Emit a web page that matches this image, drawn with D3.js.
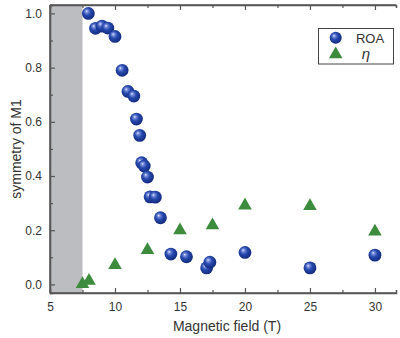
<!DOCTYPE html>
<html>
<head>
<meta charset="utf-8">
<script src="https://cdn.jsdelivr.net/npm/d3@7"></script>
<style>
  html, body { margin: 0; padding: 0; background: #fff; }
  svg { display: block; }
  text { font-family: "Liberation Sans", Arial, sans-serif; fill: #333; }
</style>
</head>
<body>
<svg id="chart" width="400" height="338"></svg>
<script>
// ROA symmetry of M1 versus magnetic field
const roaField = [7.95, 8.5, 9.0, 9.45, 10.0, 10.55, 11.0, 11.45, 11.65, 11.9, 12.05, 12.25, 12.5, 12.7, 13.1, 13.5, 14.3, 15.5, 17.05, 17.3, 20.0, 25.0, 30.0];
const roaValue = [1.0, 0.945, 0.953, 0.946, 0.915, 0.79, 0.712, 0.695, 0.61, 0.55, 0.449, 0.437, 0.396, 0.323, 0.322, 0.246, 0.112, 0.102, 0.061, 0.082, 0.118, 0.061, 0.108];

// eta values versus magnetic field
const etaField = [7.5, 8.0, 10.0, 12.5, 15.0, 17.5, 20.0, 25.0, 30.0];
const etaValue = [0.005, 0.017, 0.075, 0.13, 0.203, 0.222, 0.295, 0.293, 0.199];

const xMajorTicks = [5, 10, 15, 20, 25, 30];
const xMinorTicks = [7.5, 12.5, 17.5, 22.5, 27.5];
const yMajorTicks = [0.0, 0.2, 0.4, 0.6, 0.8, 1.0];
const yMinorTicks = [0.1, 0.3, 0.5, 0.7, 0.9];
const shadedRange = [5, 7.5];

const svg = d3.select("#chart");
const plotLeft = 50, plotRight = 396, plotTop = 5, plotBottom = 293;

const x = d3.scaleLinear().domain([5, 31.62]).range([plotLeft, plotRight]);
const y = d3.scaleLinear().domain([-0.0317, 1.031]).range([plotBottom, plotTop]);

const defs = svg.append("defs");
const grad = defs.append("radialGradient")
  .attr("id", "ball").attr("cx", "45%").attr("cy", "42%").attr("r", "58%")
  .attr("fx", "35%").attr("fy", "32%");
grad.append("stop").attr("offset", "0%").attr("stop-color", "#e8ecff");
grad.append("stop").attr("offset", "18%").attr("stop-color", "#7a8fdc");
grad.append("stop").attr("offset", "50%").attr("stop-color", "#2649ad");
grad.append("stop").attr("offset", "100%").attr("stop-color", "#12297e");

// shaded low-field region
svg.append("rect")
  .attr("x", x(shadedRange[0])).attr("y", plotTop)
  .attr("width", x(shadedRange[1]) - x(shadedRange[0]))
  .attr("height", plotBottom - plotTop)
  .attr("fill", "#bcbdc0");

const axisColor = "#555";

// bottom axis (ticks inward)
const gB = svg.append("g").attr("transform", `translate(0,${plotBottom})`);
gB.call(d3.axisBottom(x).tickValues(xMajorTicks).tickSize(-5).tickFormat(d3.format("d")).tickPadding(9));
gB.append("g").call(d3.axisBottom(x).tickValues(xMinorTicks).tickSize(-3).tickFormat(""));
// top axis
const gT = svg.append("g").attr("transform", `translate(0,${plotTop})`);
gT.call(d3.axisTop(x).tickValues(xMajorTicks).tickSize(-5).tickFormat(""));
gT.append("g").call(d3.axisTop(x).tickValues(xMinorTicks).tickSize(-3).tickFormat(""));
// left axis
const gL = svg.append("g").attr("transform", `translate(${plotLeft},0)`);
gL.call(d3.axisLeft(y).tickValues(yMajorTicks).tickSize(-5).tickFormat(d3.format(".1f")).tickPadding(8));
gL.append("g").call(d3.axisLeft(y).tickValues(yMinorTicks).tickSize(-3).tickFormat(""));

svg.selectAll(".domain").attr("stroke", axisColor).attr("stroke-width", 1.5);
svg.selectAll(".tick line").attr("stroke", axisColor).attr("stroke-width", 1.2);
svg.selectAll(".tick text").attr("font-size", 12).attr("fill", "#333")
  .attr("font-family", "Liberation Sans, Arial, sans-serif");
gB.select(".domain").attr("d", `M${plotLeft},0H${plotRight}`);
gT.select(".domain").attr("d", `M${plotLeft},0H${plotRight}`);
gL.select(".domain").attr("d", `M0,${plotBottom}V${plotTop}`);

// eta triangles
const tri = d3.symbol().type(d3.symbolTriangle).size(80);
svg.append("g").selectAll("path")
  .data(etaField.map((f, i) => [f, etaValue[i]]))
  .join("path")
  .attr("d", tri)
  .attr("transform", d => `translate(${x(d[0])},${y(d[1]) + 1})`)
  .attr("fill", "#3d8b3d");

// ROA spheres
svg.append("g").selectAll("circle")
  .data(roaField.map((f, i) => [f, roaValue[i]]))
  .join("circle")
  .attr("cx", d => x(d[0])).attr("cy", d => y(d[1]))
  .attr("r", 6.4)
  .attr("fill", "url(#ball)");

// legend
const lg = svg.append("g");
lg.append("rect").attr("x", 318.5).attr("y", 28.5).attr("width", 75).attr("height", 35.5)
  .attr("fill", "#fff").attr("stroke", "#444").attr("stroke-width", 1);
lg.append("circle").attr("cx", 335.7).attr("cy", 37.8).attr("r", 6).attr("fill", "url(#ball)");
lg.append("path").attr("d", tri).attr("transform", "translate(335.7,54.3)").attr("fill", "#3d8b3d");
lg.append("text").attr("x", 370).attr("y", 42.5).attr("text-anchor", "middle")
  .attr("font-size", 13).text("ROA");
lg.append("text").attr("x", 366).attr("y", 58.5).attr("text-anchor", "middle")
  .attr("font-size", 15).attr("font-style", "italic")
  .attr("font-family", "Liberation Serif, serif").text("η");

// axis titles
svg.append("text").attr("x", 227).attr("y", 331).attr("text-anchor", "middle")
  .attr("font-size", 14).text("Magnetic field (T)");
svg.append("text").attr("transform", "translate(21,149) rotate(-90)")
  .attr("text-anchor", "middle").attr("font-size", 14).text("symmetry of M1");
</script>
</body>
</html>
